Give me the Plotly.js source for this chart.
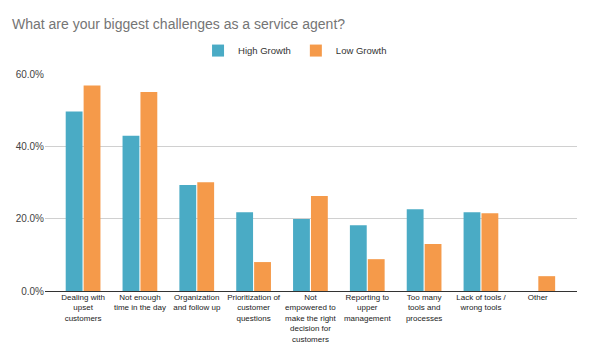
<!DOCTYPE html>
<html>
<head>
<meta charset="utf-8">
<script src="https://cdn.plot.ly/plotly-3.0.1.min.js"></script>
<style>html,body{margin:0;padding:0;background:#fff;}#chart{width:590px;height:362px;}</style>
</head>
<body>
<div id="chart"></div>
<script>
var categories = [
  "Dealing with<br>upset<br>customers",
  "Not enough<br>time in the day",
  "Organization<br>and follow up",
  "Prioritization of<br>customer<br>questions",
  "Not<br>empowered to<br>make the right<br>decision for<br>customers",
  "Reporting to<br>upper<br>management",
  "Too many<br>tools and<br>processes",
  "Lack of tools /<br>wrong tools",
  "Other"
];
var highGrowth = [49.6, 42.9, 29.3, 21.8, 19.9, 18.2, 22.6, 21.8, 0];
var lowGrowth = [56.8, 55.0, 30.1, 8.0, 26.3, 8.8, 13.0, 21.5, 4.1];
var yTicks = [0, 20, 40, 60];

var traces = [
  {type: "bar", name: "High Growth", x: categories, y: highGrowth, marker: {color: "#4aabc5"}},
  {type: "bar", name: "Low Growth", x: categories, y: lowGrowth, marker: {color: "#f59a4a"}}
];

var layout = {
  width: 590, height: 362,
  margin: {l: 45, r: 13, t: 74, b: 71},
  paper_bgcolor: "#fff", plot_bgcolor: "#fff",
  font: {family: "Liberation Sans, Arial, sans-serif", color: "#222"},
  title: {text: "What are your biggest challenges as a service agent?", x: 12/590, xref: "container", xanchor: "left", y: 1 - 24/362, yref: "container", yanchor: "middle", font: {size: 14, color: "#757575"}},
  showlegend: true,
  legend: {orientation: "h", x: 0.47, xanchor: "center", y: 1.108, yanchor: "middle", font: {size: 9.5, color: "#333"}, itemwidth: 30},
  barmode: "group", bargap: 0.37, bargroupgap: 0.06,
  xaxis: {type: "category", range: [-0.67, 8.69], tickfont: {size: 8, color: "#222"}, showgrid: false, ticks: "", showline: false, tickangle: 0, automargin: false},
  yaxis: {range: [0, 60], tickvals: yTicks, ticktext: yTicks.map(function(v){return v.toFixed(1) + "%";}), tickfont: {size: 10, color: "#444"}, gridcolor: "#d0d0d0", zeroline: true, zerolinecolor: "#333", zerolinewidth: 1, showline: false, ticks: "", automargin: false}
};
Plotly.newPlot("chart", traces, layout, {displayModeBar: false, staticPlot: true});
</script>
</body>
</html>
